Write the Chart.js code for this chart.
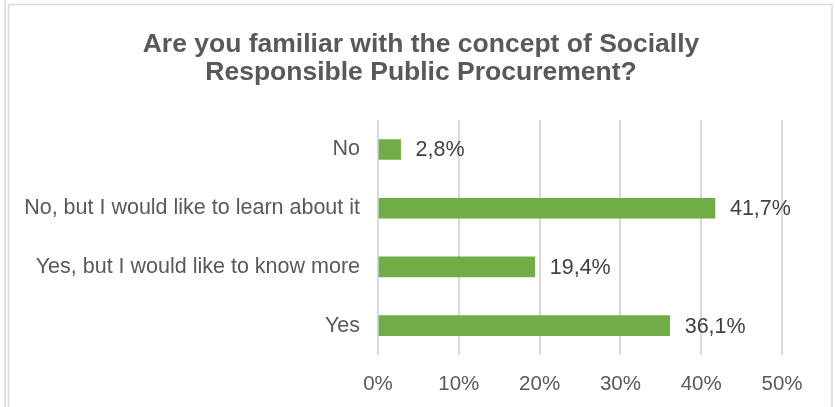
<!DOCTYPE html>
<html>
<head>
<meta charset="utf-8">
<script src="https://cdn.jsdelivr.net/npm/chart.js@4"></script>
<style>
html,body{margin:0;padding:0;background:#fff;}
#wrap{width:835px;height:407px;position:relative;}
</style>
</head>
<body>
<div id="wrap"><canvas id="c" width="835" height="407"></canvas></div>
<script>
const titleLines = ["Are you familiar with the concept of Socially", "Responsible Public Procurement?"];
const categories = ["No", "No, but I would like to learn about it", "Yes, but I would like to know more", "Yes"];
const values = [2.8, 41.7, 19.4, 36.1];
const xTicks = [0, 10, 20, 30, 40, 50];

const FONT = "'Liberation Sans', Arial, sans-serif";

const framePlugin = {
  id: 'frame',
  afterLayout(chart) {
    // centre the title over the whole frame rather than the padded area
    if (chart.titleBlock) {
      chart.titleBlock.left += 25;
      chart.titleBlock.right += 25;
    }
  },
  beforeDraw(chart) {
    const ctx = chart.ctx;
    ctx.save();
    ctx.fillStyle = '#ffffff';
    ctx.fillRect(0, 0, chart.width, chart.height);
    ctx.strokeStyle = '#d9d9d9';
    ctx.lineWidth = 1.5;
    ctx.beginPath();
    ctx.moveTo(5, 0); ctx.lineTo(5, 407);
    ctx.moveTo(8.5, 4.5); ctx.lineTo(8.5, 407);
    ctx.moveTo(8.5, 4.5); ctx.lineTo(832, 4.5);
    ctx.moveTo(832, 4.5); ctx.lineTo(832, 407);
    ctx.stroke();
    ctx.restore();
  }
};

const valueLabels = {
  id: 'valueLabels',
  afterDatasetsDraw(chart) {
    const ctx = chart.ctx;
    const meta = chart.getDatasetMeta(0);
    ctx.save();
    ctx.font = "21.5px " + FONT;
    ctx.fillStyle = '#404040';
    ctx.textAlign = 'left';
    ctx.textBaseline = 'middle';
    meta.data.forEach((bar, i) => {
      const txt = values[i].toFixed(1).replace('.', ',') + '%';
      ctx.fillText(txt, bar.x + 15, bar.y + 1);
    });
    ctx.restore();
  }
};

new Chart(document.getElementById('c'), {
  type: 'bar',
  data: {
    labels: categories,
    datasets: [{
      data: values,
      backgroundColor: '#70ad47',
      borderWidth: 0,
      barThickness: 20
    }]
  },
  options: {
    indexAxis: 'y',
    responsive: false,
    animation: false,
    devicePixelRatio: 1,
    layout: { padding: { left: 10, right: 53, top: 0, bottom: 0 } },
    plugins: {
      legend: { display: false },
      tooltip: { enabled: false },
      title: {
        display: true,
        text: titleLines,
        color: '#595959',
        font: { family: FONT, size: 26.5, weight: 'bold', lineHeight: 1.06 },
        padding: { top: 31, bottom: 33 }
      }
    },
    scales: {
      x: {
        min: 0, max: 50,
        afterBuildTicks(scale) { scale.ticks = xTicks.map(v => ({ value: v })); },
        afterFit(scale) { scale.height = 52; },
        border: { display: false },
        grid: { color: '#d9d9d9', lineWidth: 2, drawTicks: false },
        ticks: {
          padding: 17,
          color: '#595959',
          font: { family: FONT, size: 20.5 },
          callback: (v) => v + '%'
        }
      },
      y: {
        afterFit(scale) { scale.width = 368; },
        border: { display: false },
        grid: { display: false, drawTicks: false },
        ticks: {
          padding: 18,
          color: '#595959',
          font: { family: FONT, size: 21.5 }
        }
      }
    }
  },
  plugins: [framePlugin, valueLabels]
});
</script>
</body>
</html>
